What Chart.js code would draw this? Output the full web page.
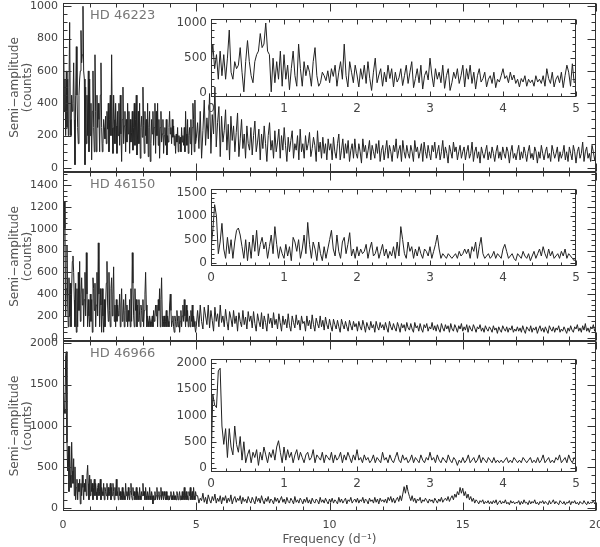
<!DOCTYPE html>
<html>
<head>
<meta charset="utf-8">
<script src="https://cdn.jsdelivr.net/npm/chart.js@4.4.1/dist/chart.umd.min.js"></script>
<style>
  html, body { margin: 0; padding: 0; background: #fff; }
  #wrap { position: relative; width: 600px; height: 547px; }
  #wrap canvas { position: absolute; left: 0; top: 0; }
</style>
</head>
<body>
<div id="wrap">
  <canvas id="main1" width="600" height="547"></canvas>
  <canvas id="main2" width="600" height="547"></canvas>
  <canvas id="main3" width="600" height="547"></canvas>
  <canvas id="inset1" width="600" height="547"></canvas>
  <canvas id="inset2" width="600" height="547"></canvas>
  <canvas id="inset3" width="600" height="547"></canvas>
</div>
<script>
//
// Periodograms of three stars (semi-amplitude vs frequency)
//

//
// Data
//

var stars = ['HD 46223', 'HD 46150', 'HD 46966'];

// frequency grids (d^-1): fine below 5, coarser from 5 to 20
var lowStep = 0.025;
var highStep = 0.05;

// tick labels
var mainXTicks = [0, 5, 10, 15, 20];
var insetXTicks = [0, 1, 2, 3, 4, 5];
var mainYTicks = [
  [0, 200, 400, 600, 800, 1000],
  [0, 200, 400, 600, 800, 1000, 1200, 1400],
  [0, 500, 1000, 1500, 2000]
];
var insetYTicks = [
  [0, 500, 1000],
  [0, 500, 1000, 1500],
  [0, 500, 1000, 1500, 2000]
];

// HD 46223, 0 - 5 d^-1
var hd46223Low = [
  400,700,350,550,200,600,250,550,200,500,900,300,200,450,350,400,650,300,20,450,
  750,450,250,150,450,550,600,850,650,700,1000,600,550,20,500,150,450,200,600,100,
  550,200,400,50,350,600,250,100,700,350,100,450,250,400,300,100,450,650,250,100,
  150,300,250,180,320,150,350,240,400,100,300,450,200,700,250,90,450,300,150,400,
  260,90,350,200,400,140,450,210,40,300,500,150,260,350,100,300,160,400,210,350,
  90,300,160,220,350,110,250,400,140,300,450,80,210,350,150,400,60,250,320,190,
  500,260,90,350,200,300,150,400,70,250,350,40,150,300,210,350,140,250,400,90,
  350,200,400,140,300,60,250,350,160,210,300,90,200,250,140,300,80,200,160,250,
  350,210,250,150,300,190,260,140,200,90,210,160,250,100,200,150,190,100,250,160,
  200,140,250,100,350,210,140,300,90,200,250,150,300,80,250,400,300,100,420,150,
  180
];
// HD 46223, 5 - 20 d^-1
var hd46223High = [
  280,120,350,60,230,420,140,310,180,460,90,330,210,500,130,280,380,70,320,160,
  230,360,110,270,50,320,170,260,100,220,340,70,180,300,120,210,60,260,150,110,
  250,80,200,290,100,160,240,50,210,120,260,150,40,200,280,110,170,60,230,100,
  160,240,60,200,110,250,140,40,190,100,170,230,60,150,110,200,50,240,100,150,
  60,200,110,150,220,70,120,190,140,40,230,100,160,60,190,90,150,50,180,110,
  150,50,190,100,60,150,210,50,110,180,60,150,90,170,40,110,150,60,180,90,
  60,150,100,30,180,100,140,60,110,170,50,140,100,60,150,90,170,40,110,140,
  50,110,170,60,140,100,40,140,100,180,60,110,140,40,170,100,60,140,90,60,
  140,100,40,170,100,130,60,100,150,40,160,100,60,140,90,50,140,100,160,60,
  100,140,50,100,170,60,130,90,30,140,100,60,160,100,130,50,100,140,60,100,
  130,50,100,140,60,90,160,40,100,130,60,100,30,130,90,60,100,140,50,100,
  60,130,90,40,100,140,60,100,50,130,90,60,130,100,30,100,140,60,90,50,
  100,140,50,100,60,130,90,40,100,140,60,90,50,130,100,30,100,60,140,90,
  50,100,130,60,90,40,140,100,60,90,130,40,100,60,90,140,50,100,40,130,
  90,50,140,100,30,100,130,60,90,160,40,100,130,60,90,40,140,100,50,90
];

// HD 46150, 0 - 5 d^-1
var hd46150Low = [
  300,700,1250,1000,200,450,850,300,100,550,200,500,100,450,700,750,600,350,100,500,
  50,450,100,600,250,700,150,400,550,300,450,100,350,600,200,780,400,100,350,200,
  100,400,150,350,50,550,450,250,500,100,300,600,200,870,400,100,450,300,50,450,
  200,50,350,100,300,500,700,300,150,600,250,100,450,550,200,400,650,150,300,100,
  350,150,300,200,250,400,100,300,450,150,200,350,100,250,400,150,300,100,250,150,
  350,100,450,150,780,500,200,100,450,250,350,100,300,150,350,200,100,300,250,150,
  350,100,250,400,600,300,100,200,150,100,200,150,100,150,200,100,250,150,200,300,
  200,300,100,350,250,450,100,350,550,200,100,150,200,100,150,250,100,200,150,100,
  300,400,250,100,150,200,100,50,200,150,100,250,150,100,200,50,150,250,100,200,
  300,150,350,200,100,300,150,250,100,150,200,100,250,150,300,100,200,150,100,50,
  100
];
// HD 46150, 5 - 20 d^-1
var hd46150High = [
  250,100,300,150,80,280,200,120,300,90,250,160,60,280,150,220,100,300,140,200,
  100,260,150,70,240,180,100,250,130,200,60,230,150,100,250,120,190,80,240,150,
  200,90,240,130,60,220,150,100,230,80,200,140,60,220,130,180,90,230,120,170,
  80,220,140,60,200,120,170,90,220,110,60,200,140,90,210,120,160,70,200,130,
  150,60,200,110,160,80,210,120,60,180,130,90,200,100,160,70,190,120,80,170,
  110,60,170,120,80,160,100,50,170,120,80,150,100,60,160,110,70,150,100,130,
  60,150,100,70,160,110,50,140,100,70,150,90,120,50,150,100,70,140,90,120,
  70,140,90,50,150,100,70,130,90,60,140,100,50,130,90,120,60,140,90,70,
  130,80,50,140,90,110,60,130,80,50,120,90,130,60,100,80,140,70,110,60,
  120,80,50,130,90,60,120,80,110,50,130,80,60,120,90,50,110,80,130,60,
  100,70,120,50,110,80,60,120,90,50,100,80,120,60,90,50,110,80,60,100,
  80,50,110,70,90,40,100,70,50,110,80,60,100,50,90,70,110,50,80,60,
  100,60,90,50,110,70,40,100,80,60,110,50,90,70,100,40,80,110,60,90,
  50,100,70,40,110,80,60,100,50,90,70,110,50,80,60,100,70,40,90,60,
  110,70,50,100,80,120,60,90,50,110,70,130,60,90,50,100,80,120,60,90
];

// HD 46966, 0 - 5 d^-1
var hd46966Low = [
  0,1400,1200,1150,1850,1900,800,450,750,200,750,400,250,800,450,300,600,150,500,100,
  250,350,100,300,200,350,50,300,150,400,250,100,300,200,350,150,400,520,300,100,
  400,150,350,200,300,100,250,350,150,300,200,100,250,300,150,200,350,100,250,200,
  150,300,100,250,200,150,300,100,250,150,200,300,100,250,150,300,200,100,250,150,
  350,150,200,100,250,150,200,100,150,250,100,200,150,100,300,150,200,100,250,150,
  100,200,300,150,100,250,150,200,100,150,250,100,200,150,100,250,150,100,200,150,
  300,150,200,100,250,150,100,200,150,100,250,150,100,200,150,50,150,100,200,100,
  150,250,100,150,200,100,150,250,100,200,150,100,200,150,100,200,100,150,100,150,
  100,150,200,100,150,100,200,150,100,150,100,200,150,100,150,200,100,150,100,200,
  100,150,250,100,150,200,100,150,100,200,150,250,100,150,200,100,250,150,100,200,
  150
];
// HD 46966, 5 - 20 d^-1
var hd46966High = [
  150,60,120,90,180,70,130,50,160,100,60,140,90,170,60,120,80,150,50,130,
  90,150,60,120,80,160,50,110,140,70,120,90,150,50,130,80,110,60,140,90,
  60,130,90,50,140,80,120,60,150,90,50,120,80,140,60,110,90,50,130,80,
  120,60,100,140,70,110,50,130,80,60,120,90,50,140,70,100,60,120,90,50,
  110,70,130,60,100,50,120,80,60,110,90,50,130,70,100,60,120,80,50,110,
  70,120,60,100,80,50,130,70,110,60,90,120,50,100,80,130,60,90,110,70,
  120,60,100,80,130,60,110,90,50,120,80,100,60,130,70,110,50,120,80,100,
  70,110,60,130,90,140,70,120,60,100,130,80,150,90,170,260,180,280,200,140,
  90,150,80,120,60,110,90,130,60,100,80,120,90,60,110,80,100,60,120,90,
  60,110,80,130,70,100,120,90,140,80,120,150,100,170,130,200,160,250,180,240,
  150,200,120,170,100,140,80,120,60,100,80,50,90,70,100,50,80,60,90,50,
  80,50,90,60,100,40,70,90,50,80,60,100,50,70,40,90,60,80,50,70,
  60,90,40,80,50,100,60,70,40,90,50,80,60,100,50,70,40,80,60,90,
  50,80,60,40,90,50,70,100,50,80,60,40,90,70,50,80,40,70,60,90,
  40,80,60,90,50,70,40,80,60,50,90,60,40,80,50,70,60,90,50,70
];

//
// Helpers
//

var textColor = '#444';
var lineColor = '#222';
var fontFamily = 'DejaVu Sans';

function toPoints(low, high) {
  var pts = [];
  low.forEach(function(v, i) { pts.push({ x: i * lowStep, y: v }); });
  (high || []).forEach(function(v, i) { pts.push({ x: 5 + (i + 1) * highStep, y: v }); });
  return pts;
}

function fixedTicks(values) {
  return function(s) {
    s.ticks = values.map(function(v) { return { value: v }; });
  };
}

// IDL-like frame with inward ticks on all four sides
var frameTicks = {
  id: 'frameTicks',
  afterDraw: function(chart, args, o) {
    var ctx = chart.ctx, a = chart.chartArea;
    var xs = chart.scales.x, ys = chart.scales.y;
    var L = Math.round(a.left) + 0.5, R = Math.round(a.right) - 0.5;
    var T = Math.round(a.top) + 0.5, B = Math.round(a.bottom) - 0.5;
    ctx.save();
    ctx.strokeStyle = '#333';
    ctx.lineWidth = 1;
    ctx.strokeRect(L, T, R - L, B - T);
    ctx.beginPath();
    function walk(scale, minor, major, fn) {
      var n = Math.ceil(scale.min / minor - 1e-6);
      for (var v = n * minor; v <= scale.max + 1e-9; v = (++n) * minor) {
        var isMajor = Math.abs(v / major - Math.round(v / major)) < 1e-6;
        fn(Math.round(scale.getPixelForValue(v)) + 0.5, isMajor ? o.major : o.minor);
      }
    }
    walk(xs, o.xMinor, o.xMajor, function(p, len) {
      ctx.moveTo(p, B); ctx.lineTo(p, B - len);
      ctx.moveTo(p, T); ctx.lineTo(p, T + len);
    });
    walk(ys, o.yMinor, o.yMajor, function(p, len) {
      ctx.moveTo(L, p); ctx.lineTo(L + len, p);
      ctx.moveTo(R, p); ctx.lineTo(R - len, p);
    });
    ctx.stroke();
    if (o.label) {
      ctx.fillStyle = '#777';
      ctx.font = '13px ' + fontFamily;
      ctx.textBaseline = 'middle';
      ctx.fillText(o.label, 90, a.top + 13);
    }
    ctx.restore();
  }
};

function buildChart(id, cfg) {
  var canvas = document.getElementById(id);
  return new Chart(canvas, {
    type: 'line',
    data: {
      datasets: [{
        data: cfg.points,
        borderColor: lineColor,
        borderWidth: 1,
        pointRadius: 0,
        tension: 0,
        fill: false
      }]
    },
    options: {
      responsive: false,
      animation: false,
      events: [],
      layout: {
        padding: {
          left: cfg.left - cfg.yWidth,
          right: 600 - cfg.right,
          top: cfg.top,
          bottom: 547 - cfg.bottom - cfg.xHeight
        }
      },
      plugins: {
        legend: { display: false },
        tooltip: { enabled: false },
        frameTicks: cfg.ticks
      },
      scales: {
        x: {
          type: 'linear',
          min: 0,
          max: cfg.xMax,
          grid: { display: false, drawTicks: false },
          border: { display: false },
          afterBuildTicks: fixedTicks(cfg.xTicks),
          ticks: {
            display: cfg.showX,
            padding: cfg.xPad,
            color: textColor,
            font: { family: fontFamily, size: cfg.fontSize },
            callback: function(v) { return String(v); }
          },
          title: {
            display: !!cfg.xTitle,
            text: cfg.xTitle || '',
            color: '#555',
            padding: { top: 0, bottom: 0 },
            font: { family: fontFamily, size: 12 }
          },
          afterFit: function(s) { s.height = cfg.xHeight; s.paddingLeft = 0; s.paddingRight = 0; }
        },
        y: {
          type: 'linear',
          min: cfg.yMin,
          max: cfg.yMax,
          grid: { display: false, drawTicks: false },
          border: { display: false },
          afterBuildTicks: fixedTicks(cfg.yTicks),
          ticks: {
            padding: cfg.yPad,
            color: textColor,
            font: { family: fontFamily, size: cfg.fontSize },
            callback: function(v) { return String(v); }
          },
          title: {
            display: !!cfg.yTitle,
            text: cfg.yTitle || '',
            color: '#555',
            padding: { top: 8, bottom: 0 },
            font: { family: fontFamily, size: 12, lineHeight: 1.08 }
          },
          afterFit: function(s) { s.width = cfg.yWidth; s.paddingTop = 0; s.paddingBottom = 0; }
        }
      }
    },
    plugins: [frameTicks]
  });
}

//
// Panels
//

var lows = [hd46223Low, hd46150Low, hd46966Low];
var highs = [hd46223High, hd46150High, hd46966High];

var mainBoxes = [
  { top: 3, bottom: 172, yMin: -25, yMax: 1020, yMajor: 200, yMinor: 50 },
  { top: 172, bottom: 341, yMin: -30, yMax: 1520, yMajor: 200, yMinor: 50 },
  { top: 341, bottom: 511, yMin: -36, yMax: 2030, yMajor: 500, yMinor: 100 }
];

var insetBoxes = [
  { top: 19, bottom: 97, yMin: -53, yMax: 1057 },
  { top: 189, bottom: 266, yMin: -64, yMax: 1586 },
  { top: 359, bottom: 472, yMin: -76, yMax: 2076 }
];

mainBoxes.forEach(function(b, i) {
  var last = i === 2;
  buildChart('main' + (i + 1), {
    points: toPoints(lows[i], highs[i]),
    left: 63, right: 596, top: b.top, bottom: b.bottom,
    yWidth: 63, xHeight: last ? 36 : 0,
    xMax: 20, yMin: b.yMin, yMax: b.yMax,
    xTicks: mainXTicks, yTicks: mainYTicks[i],
    showX: last, xPad: 8, yPad: 5, fontSize: 11,
    xTitle: last ? 'Frequency (d\u207B\u00B9)' : null,
    yTitle: ['Semi\u2212amplitude', '(counts)'],
    ticks: { xMajor: 5, xMinor: 1, yMajor: b.yMajor, yMinor: b.yMinor, major: 8, minor: 4, label: stars[i] }
  });
});

insetBoxes.forEach(function(b, i) {
  buildChart('inset' + (i + 1), {
    points: toPoints(lows[i]),
    left: 211, right: 576, top: b.top, bottom: b.bottom,
    yWidth: 50, xHeight: 20,
    xMax: 5, yMin: b.yMin, yMax: b.yMax,
    xTicks: insetXTicks, yTicks: insetYTicks[i],
    showX: true, xPad: 5, yPad: 4, fontSize: 12,
    ticks: { xMajor: 1, xMinor: 0.2, yMajor: 500, yMinor: 100, major: 5, minor: 3 }
  });
});
</script>
</body>
</html>
